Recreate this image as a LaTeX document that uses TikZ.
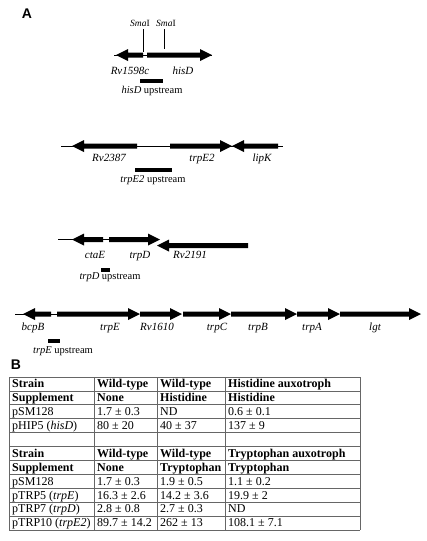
\documentclass[tikz,border=0pt]{standalone}
\usepackage{fontspec}
\setmainfont{Liberation Serif}
\newfontfamily\panelfont{Liberation Sans}
\newcommand\geneR[3]{\fill (#1,#3-2.5) -- (#2-12,#3-2.5) -- (#2-12,#3-6) -- (#2,#3) -- (#2-12,#3+6) -- (#2-12,#3+2.5) -- (#1,#3+2.5) -- cycle;}
\newcommand\geneL[3]{\fill (#2,#3-2.5) -- (#1+12,#3-2.5) -- (#1+12,#3-6) -- (#1,#3) -- (#1+12,#3+6) -- (#1+12,#3+2.5) -- (#2,#3+2.5) -- cycle;}
\tikzset{
  thinline/.style={line width=0.8pt},
  upbar/.style={line width=4pt},
  glab/.style={anchor=base, inner sep=0pt, font=\fontsize{11}{12}\selectfont\itshape},
  ulab/.style={anchor=base, inner sep=0pt, font=\fontsize{10.5}{12}\selectfont},
  smalab/.style={anchor=base, inner sep=0pt, font=\fontsize{9.5}{11}\selectfont},
  panel/.style={inner sep=0pt, font=\panelfont\bfseries\fontsize{14}{16}\selectfont},
  tline/.style={draw=black!60, line width=0.7pt},
  tt/.style={anchor=base west, inner sep=0pt, font=\fontsize{12}{13}\selectfont},
  th/.style={tt, font=\fontsize{12}{13}\selectfont\bfseries},
}
\begin{document}
\begin{tikzpicture}[x=1pt,y=-1pt]
\useasboundingbox (0,0) rectangle (426,541);
% Panel labels
\node[panel] (A) at (27,14) {A};
\node[panel] (B) at (16,365) {B};

% ---- Map 1 ----
\draw[thinline] (114,55) -- (212,55);
\geneL{116}{143}{55}
\geneR{147}{212}{55}
\draw[thinline] (143,29) -- (143,52);
\draw[thinline] (164,29) -- (164,49);
\node[smalab] (sma1) at (140,26) {\textit{Sma}I};
\node[smalab] (sma2) at (166,26) {\textit{Sma}I};
\node[glab] (rv1598c) at (130,74) {Rv1598c};
\node[glab] (hisD) at (183,74) {hisD};
\draw[upbar] (140,81) -- (163,81);
\node[ulab] (hisDup) at (152,93) {\textit{hisD} upstream};

% ---- Map 2 ----
\draw[thinline] (61,146) -- (283,146);
\geneL{72}{137}{146}
\geneR{170}{232}{146}
\geneL{232}{278}{146}
\node[glab] (rv2387) at (109,161) {Rv2387};
\node[glab] (trpE2) at (202,161) {trpE2};
\node[glab] (lipK) at (262,161) {lipK};
\draw[upbar] (135,170) -- (172,170);
\node[ulab] (trpE2up) at (153,182) {\textit{trpE2} upstream};

% ---- Map 3 ----
\draw[thinline] (58,239.5) -- (109,239.5);
\geneL{72}{103}{239.5}
\geneR{109}{160}{239.5}
\geneL{157}{248}{245.5}
\node[glab] (ctaE) at (95,258) {ctaE};
\node[glab] (trpD) at (140,258) {trpD};
\node[glab] (rv2191) at (190,258) {Rv2191};
\draw[upbar] (101,270) -- (110,270);
\node[ulab] (trpDup) at (110,279) {\textit{trpD} upstream};

% ---- Map 4 ----
\draw[thinline] (15,314) -- (57,314);
\geneL{23}{51}{314}
\geneR{57}{140}{314}
\geneR{140}{182}{314}
\geneR{183}{231}{314}
\geneR{231}{297}{314}
\geneR{297}{340}{314}
\geneR{340}{421}{314}
\node[glab] (bcpB) at (33,330) {bcpB};
\node[glab] (trpE) at (110,330) {trpE};
\node[glab] (rv1610) at (157,330) {Rv1610};
\node[glab] (trpC) at (217,330) {trpC};
\node[glab] (trpB) at (258,330) {trpB};
\node[glab] (trpA) at (312,330) {trpA};
\node[glab] (lgt) at (375,330) {lgt};
\draw[upbar] (48,341) -- (60,341);
\node[ulab] (trpEup) at (63,353) {\textit{trpE} upstream};

% ---- Table ----
\foreach \yy in {377,390.9,404.8,418.7,432.6,446.5,460.4,474.3,488.2,502.1,516,530}
  \draw[tline] (9,\yy) -- (360,\yy);
\foreach \xx in {9,94,157,225,360}
  \draw[tline] (\xx,377) -- (\xx,530);

\node[th] (r1c1) at (12,387.8) {Strain};
\node[th] (r1c2) at (97,387.8) {Wild-type};
\node[th] (r1c3) at (160,387.8) {Wild-type};
\node[th] (r1c4) at (228,387.8) {Histidine auxotroph};
\node[th] (r2c1) at (12,401.7) {Supplement};
\node[th] (r2c2) at (97,401.7) {None};
\node[th] (r2c3) at (160,401.7) {Histidine};
\node[th] (r2c4) at (228,401.7) {Histidine};
\node[tt] (r3c1) at (12,415.6) {pSM128};
\node[tt] (r3c2) at (97,415.6) {1.7 ± 0.3};
\node[tt] (r3c3) at (160,415.6) {ND};
\node[tt] (r3c4) at (228,415.6) {0.6 ± 0.1};
\node[tt] (r4c1) at (12,429.5) {pHIP5 (\textit{hisD})};
\node[tt] (r4c2) at (97,429.5) {80 ± 20};
\node[tt] (r4c3) at (160,429.5) {40 ± 37};
\node[tt] (r4c4) at (228,429.5) {137 ± 9};
\node[th] (r6c1) at (12,457.3) {Strain};
\node[th] (r6c2) at (97,457.3) {Wild-type};
\node[th] (r6c3) at (160,457.3) {Wild-type};
\node[th] (r6c4) at (228,457.3) {Tryptophan auxotroph};
\node[th] (r7c1) at (12,471.2) {Supplement};
\node[th] (r7c2) at (97,471.2) {None};
\node[th] (r7c3) at (160,471.2) {Tryptophan};
\node[th] (r7c4) at (228,471.2) {Tryptophan};
\node[tt] (r8c1) at (12,485.1) {pSM128};
\node[tt] (r8c2) at (97,485.1) {1.7 ± 0.3};
\node[tt] (r8c3) at (160,485.1) {1.9 ± 0.5};
\node[tt] (r8c4) at (228,485.1) {1.1 ± 0.2};
\node[tt] (r9c1) at (12,499) {pTRP5 (\textit{trpE})};
\node[tt] (r9c2) at (97,499) {16.3 ± 2.6};
\node[tt] (r9c3) at (160,499) {14.2 ± 3.6};
\node[tt] (r9c4) at (228,499) {19.9 ± 2};
\node[tt] (r10c1) at (12,512.9) {pTRP7 (\textit{trpD})};
\node[tt] (r10c2) at (97,512.9) {2.8 ± 0.8};
\node[tt] (r10c3) at (160,512.9) {2.7 ± 0.3};
\node[tt] (r10c4) at (228,512.9) {ND};
\node[tt] (r11c1) at (12,526.8) {pTRP10 (\textit{trpE2})};
\node[tt] (r11c2) at (97,526.8) {89.7 ± 14.2};
\node[tt] (r11c3) at (160,526.8) {262 ± 13};
\node[tt] (r11c4) at (228,526.8) {108.1 ± 7.1};
\end{tikzpicture}
\end{document}
